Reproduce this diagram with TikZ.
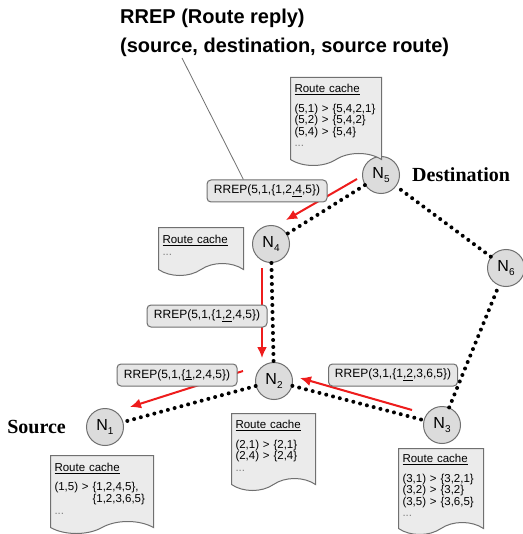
\documentclass[tikz,border=0pt]{standalone}
\usepackage{fontspec}
\setmainfont{Liberation Sans}
\newfontfamily\rolefont{Liberation Serif}
\usetikzlibrary{arrows.meta,calc,positioning,shapes.symbols}
\definecolor{hostgray}{HTML}{DCDCDC}
\definecolor{boxgray}{HTML}{E6E6E6}
\definecolor{docgray}{HTML}{EBEBEB}
\definecolor{edgegray}{HTML}{707070}
\definecolor{replyred}{HTML}{EE1C1C}
\newcommand\hostname[1]{N\raisebox{-0.55ex}{\fontsize{10}{10}\selectfont#1}}
\tikzstyle{host}=[
	circle,
	draw=edgegray,
	fill=hostgray,
	line width=1pt,
	minimum size=37pt,
	inner sep=0pt,
	font=\fontsize{16}{16}\selectfont]
\tikzstyle{rrep}=[
	draw=edgegray,
	fill=boxgray,
	rectangle,
	rounded corners=4pt,
	line width=1pt,
	minimum width=120pt,
	minimum height=22pt,
	inner sep=2pt,
	font=\fontsize{12}{12}\selectfont]
\tikzstyle{cache}=[
	tape,
	tape bend top=none,
	tape bend bottom=in and out,
	tape bend height=12pt,
	draw=edgegray,
	fill=docgray,
	line width=1pt,
	anchor=north west,
	align=left,
	inner xsep=4pt,
	inner ysep=4pt,
	font=\fontsize{11.5}{11.6}\selectfont]
\tikzstyle{link}=[
	line width=4pt,
	line cap=round,
	dash pattern=on 0pt off 7pt]
\tikzstyle{reply}=[
	-{Latex[length=11pt,width=10pt]},
	draw=replyred,
	line width=2pt]
\tikzstyle{role}=[
	inner sep=0pt,
	font=\rolefont\bfseries\fontsize{20}{20}\selectfont]

\begin{document}
\begin{tikzpicture}[x=1pt,y=-1pt]
	\useasboundingbox[fill=white] (0,0) rectangle (522,534);
	\begin{scope}
		\node[host] (n5) at (381,175) {\hostname{5}};
		\node[host] (n4) at (271,244) {\hostname{4}};
		\node[host] (n2) at (274,381) {\hostname{2}};
		\node[host] (n1) at (105,427) {\hostname{1}};
		\node[host] (n3) at (442,425) {\hostname{3}};
		\node[host] (n6) at (506,268) {\hostname{6}};
		\node[role] (dest) [right=12pt of n5] {Destination};
		\node[role] (src) [left=20pt of n1] {Source};
	\end{scope}
	\begin{scope}
		\draw[link] (n5) -- (n4);
		\draw[link] (n4) -- (n2);
		\draw[link] (n2) -- (n1);
		\draw[link] (n2) -- (n3);
		\draw[link] (n3) -- (n6);
		\draw[link] (n6) -- (n5);
	\end{scope}
	\begin{scope}
		\coordinate (r5) at (357,179);
		\coordinate (r54) at (286,220);
		\coordinate (r4) at (262,268);
		\coordinate (r42) at (262,358);
		\coordinate (r2) at (243,371);
		\coordinate (r21) at (130,407);
		\coordinate (r3) at (412,410);
		\coordinate (r32) at (300,378);
		\draw[reply] (r5) -- (r54);
		\draw[reply] (r4) -- (r42);
		\draw[reply] (r2) -- (r21);
		\draw[reply] (r3) -- (r32);
	\end{scope}
	\begin{scope}
		\node[rrep] (rrep54) at (267,191) {RREP(5,1,\{1,2\underline{,4},5\})};
		\node[rrep] (rrep42) at (207,316) {RREP(5,1,\{1\underline{,2},4,5\})};
		\node[rrep] (rrep21) at (177,375) {RREP(5,1,\{\underline{1},2,4,5\})};
		\node[rrep,minimum width=129pt] (rrep32) at (393,375) {RREP(3,1,\{1\underline{,2},3,6,5\})};
	\end{scope}
	\begin{scope}
		\node[anchor=north west,align=left,inner sep=0pt,font=\bfseries\fontsize{20}{29}\selectfont] (title) at (120,9)
			{RREP (Route reply)\\(source, destination, source route)};
		\coordinate (callout) at (182,58);
		\draw[edgegray,line width=0.8pt] (callout) -- (rrep54.154);
	\end{scope}
	\begin{scope}
		\node[cache,text width=83pt,minimum height=88pt] (cache5) at (290,77)
			{\underline{Route cache}\\[8pt](5,1) > \{5,4,2,1\}\\(5,2) > \{5,4,2\}\\(5,4) > \{5,4\}\\{\color{gray}...}};
		\node[cache,text width=77pt,minimum height=48pt] (cache4) at (158,227)
			{\underline{Route cache}\\{\color{gray}...}};
		\node[cache,text width=76pt,minimum height=77pt] (cache2) at (231,413)
			{\underline{Route cache}\\[8pt](2,1) > \{2,1\}\\(2,4) > \{2,4\}\\{\color{gray}...}};
		\node[cache,text width=95pt,minimum height=78pt] (cache1) at (50,455)
			{\underline{Route cache}\\[8pt](1,5) > \{1,2,4,5\},\\\phantom{(1,5) > }\{1,2,3,6,5\}\\{\color{gray}...}};
		\node[cache,text width=77pt,minimum height=86pt] (cache3) at (398,448)
			{\underline{Route cache}\\[8pt](3,1) > \{3,2,1\}\\(3,2) > \{3,2\}\\(3,5) > \{3,6,5\}\\{\color{gray}...}};
	\end{scope}
\end{tikzpicture}
\end{document}
